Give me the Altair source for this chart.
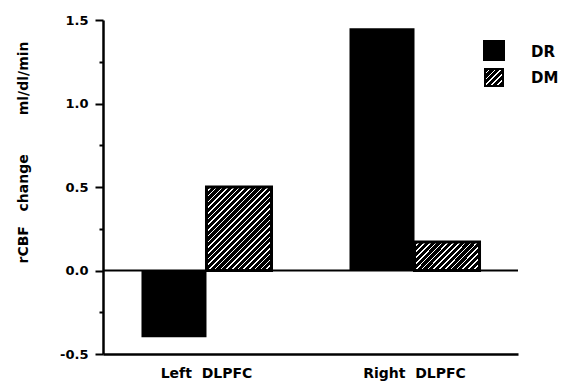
import math
import altair as alt
import pandas as pd

# ---- data ----
regions = ["Left DLPFC", "Right DLPFC"]
series = ["DR", "DM"]
dr_values = [-0.40, 1.45]
dm_values = [0.50, 0.17]
y_ticks = [-0.5, -0.25, 0.0, 0.25, 0.5, 0.75, 1.0, 1.25, 1.5]

rows = []
for r, a, b in zip(regions, dr_values, dm_values):
    rows.append({"region": r, "series": "DR", "value": a})
    rows.append({"region": r, "series": "DM", "value": b})
df = pd.DataFrame(rows)
legend_df = pd.DataFrame({"series": series})
zero_df = pd.DataFrame({"y": [0.0]})

FONT = "DejaVu Sans"
W, H = 415, 334


def hatch(w, h, pitch=4.0, white=1.1):
    """Diagonal '///' hatch as a striped linear gradient for a w x h box."""
    length = (w + h) / math.sqrt(2)
    n = max(1, int(round(length / pitch)))
    k = (w + h) / (w * w + h * h)
    stops = []
    frac = (pitch - white) / pitch
    for i in range(n):
        a = i / n
        b = (i + frac) / n
        c = (i + 1) / n
        stops += [
            alt.GradientStop(color="black", offset=a),
            alt.GradientStop(color="black", offset=b),
            alt.GradientStop(color="white", offset=b),
            alt.GradientStop(color="white", offset=c),
        ]
    return alt.LinearGradient(gradient="linear", stops=stops,
                              x1=0, y1=0, x2=k * w, y2=k * h)


x_enc = alt.X(
    "region:N", sort=regions, title=None,
    scale=alt.Scale(paddingInner=0.375, paddingOuter=0.185),
    axis=alt.Axis(labelAngle=0, ticks=False, labelPadding=12,
                  labelFont=FONT, labelFontSize=14, labelFontWeight="bold",
                  labelColor="black", domainColor="black", domainWidth=2.5,
                  labelExpr="replace(datum.label, ' ', '\u00a0\u00a0')"),
)
xo_enc = alt.XOffset("series:N", sort=series,
                     scale=alt.Scale(domain=series, paddingInner=0, paddingOuter=0))
y_enc = alt.Y(
    "value:Q",
    scale=alt.Scale(domain=[-0.5, 1.5], nice=False),
    title="rCBF\u00a0\u00a0\u00a0change\u00a0\u00a0\u00a0\u00a0\u00a0\u00a0\u00a0\u00a0ml/dl/min",
    axis=alt.Axis(
        values=y_ticks,
        labelExpr="datum.value % 0.5 == 0 ? replace(format(datum.value, '.1f'), '\u2212', '-') : ''",
        tickSize={"condition": {"test": "datum.value % 0.5 == 0", "value": 8}, "value": 4},
        tickWidth=2, tickColor="black", domainColor="black", domainWidth=2.5,
        grid=False, labelPadding=7,
        labelFont=FONT, labelFontSize=13, labelFontWeight="bold", labelColor="black",
        titleFont=FONT, titleFontSize=14, titleFontWeight="bold", titleColor="black",
        titleAngle=-90, titleX=-76, titleY=132, titleBaseline="alphabetic",
    ),
)

base = alt.Chart(df).encode(x=x_enc, xOffset=xo_enc, y=y_enc)

dr_bars = base.transform_filter(alt.datum.series == "DR").mark_bar(color="black")
dm_left = base.transform_filter(
    (alt.datum.series == "DM") & (alt.datum.region == regions[0])
).mark_bar(fill=hatch(65, 83.5), stroke="black", strokeWidth=3)
dm_right = base.transform_filter(
    (alt.datum.series == "DM") & (alt.datum.region == regions[1])
).mark_bar(fill=hatch(65, 28), stroke="black", strokeWidth=3)

zero_rule = alt.Chart(zero_df).mark_rule(color="black", strokeWidth=2).encode(
    y=alt.Y("y:Q", scale=alt.Scale(domain=[-0.5, 1.5], nice=False))
)

leg_dr_box = alt.Chart(legend_df).transform_filter(alt.datum.series == "DR").mark_rect(
    color="black").encode(x=alt.value(380), x2=alt.value(402), y=alt.value(20), y2=alt.value(41))
leg_dm_box = alt.Chart(legend_df).transform_filter(alt.datum.series == "DM").mark_rect(
    fill=hatch(18, 17), stroke="black", strokeWidth=2).encode(
    x=alt.value(382), x2=alt.value(400), y=alt.value(49), y2=alt.value(66))
leg_dr_txt = alt.Chart(legend_df).transform_filter(alt.datum.series == "DR").mark_text(
    align="left", baseline="middle", font=FONT, fontSize=15, fontWeight="bold",
    color="black").encode(text="series:N", x=alt.value(428), y=alt.value(32))
leg_dm_txt = alt.Chart(legend_df).transform_filter(alt.datum.series == "DM").mark_text(
    align="left", baseline="middle", font=FONT, fontSize=15, fontWeight="bold",
    color="black").encode(text="series:N", x=alt.value(428), y=alt.value(58))

chart = alt.layer(
    zero_rule, dr_bars, dm_left, dm_right,
    leg_dr_box, leg_dm_box, leg_dr_txt, leg_dm_txt,
).properties(
    width=W, height=H,
    autosize=alt.AutoSizeParams(type="none"),
    padding={"left": 103, "top": 20, "right": 49, "bottom": 30},
    background="white",
).configure_view(stroke=None)

chart.save("out.html", embed_options={"renderer": "svg", "actions": False})
